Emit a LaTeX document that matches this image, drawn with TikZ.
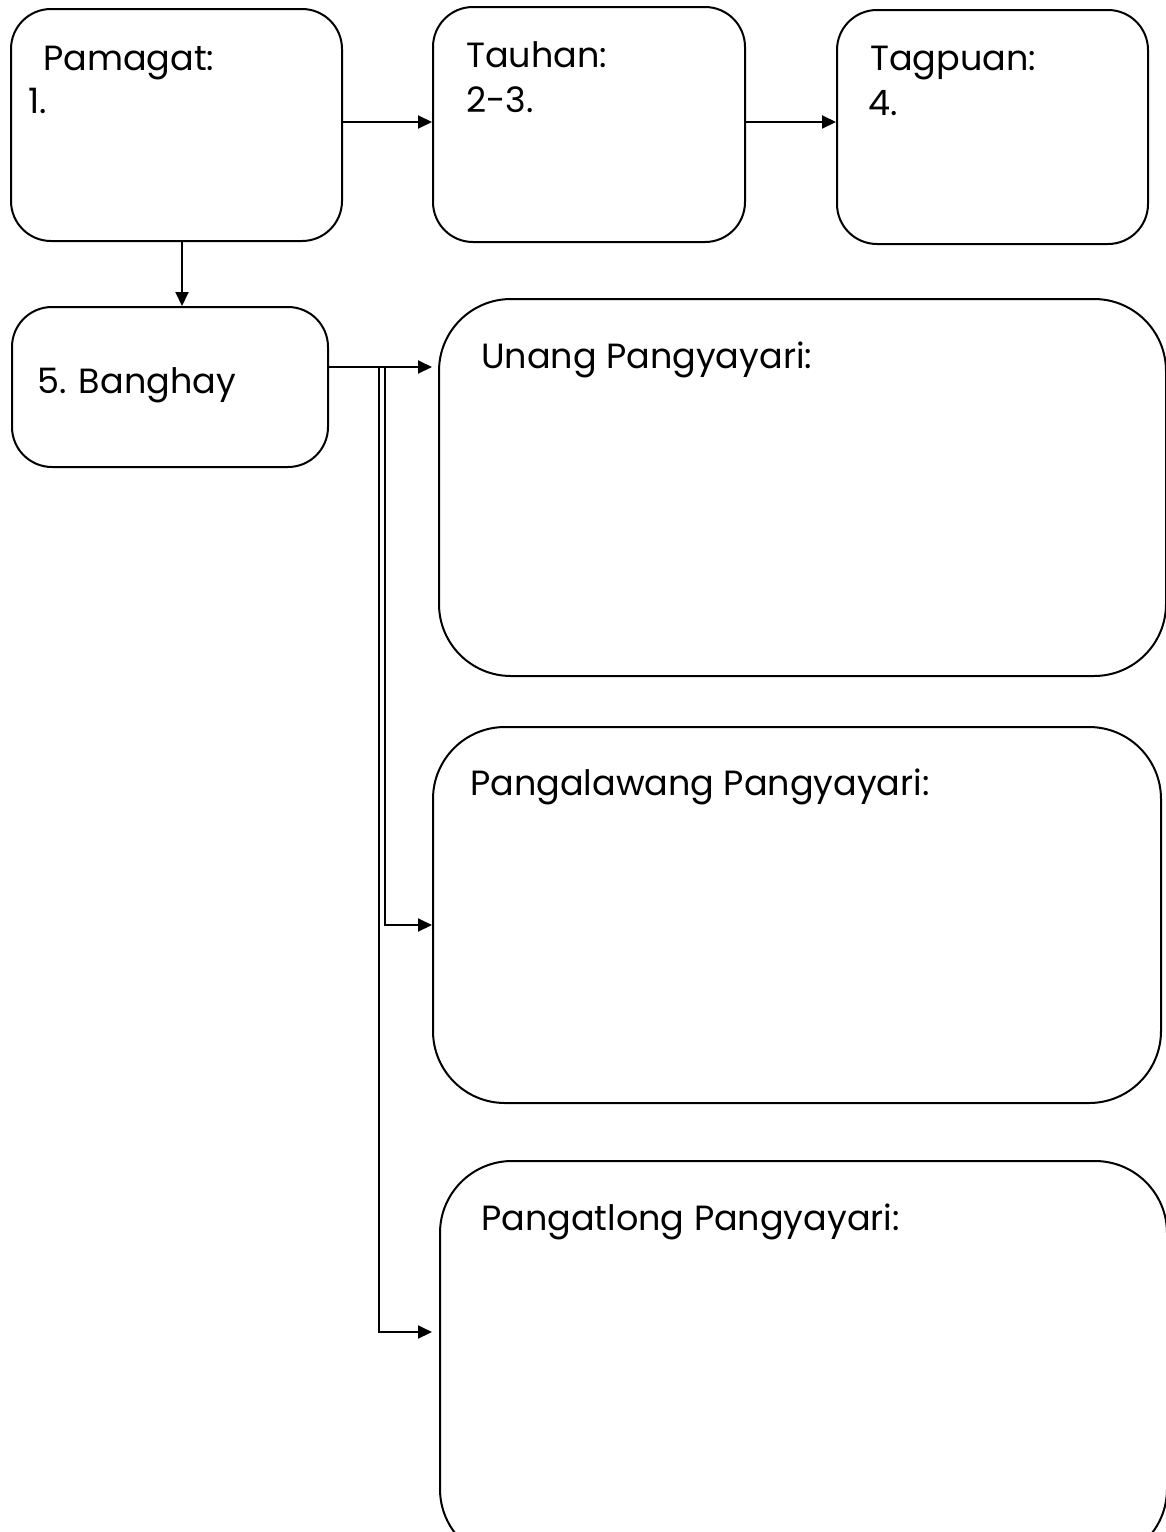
\documentclass[tikz,border=0pt]{standalone}
\usepackage{fontspec}
\setmainfont{Poppins}
\usetikzlibrary{arrows.meta}
\begin{document}
\begin{tikzpicture}[x=1pt,y=-1pt,
  box/.style={draw,line width=2pt,rounded corners=#1,inner sep=0pt,anchor=north west},
  box/.default=40pt,
  lbl/.style={anchor=base west,inner sep=0pt,font=\fontsize{35}{42}\selectfont},
  conn/.style={line width=2pt},
  arr/.style={line width=2pt,-{Triangle[length=14pt,width=13pt]}}]
\useasboundingbox (0,0) rectangle (1166,1532);
% boxes
\node[box,minimum width=331pt,minimum height=232pt] (pam) at (10,8) {};
\node[box,minimum width=312pt,minimum height=235pt] (tau) at (432,6) {};
\node[box,minimum width=311pt,minimum height=234pt] (tag) at (836,9) {};
\node[box,minimum width=316pt,minimum height=160pt] (ban) at (11,306) {};
\node[box=72pt,minimum width=727pt,minimum height=377pt] (una) at (438,298) {};
\node[box=72pt,minimum width=728pt,minimum height=376pt] (ika) at (432,726) {};
\node[box=72pt,minimum width=727pt,minimum height=400pt] (ikt) at (439,1160) {};
% texts
\node[lbl] (tpam) at (43,70) {Pamagat:};
\node[lbl] (tpam1) at (28,113) {1.};
\node[lbl] (ttau) at (466,67) {Tauhan:};
\node[lbl] (ttau1) at (466,112) {2-3.};
\node[lbl] (ttag) at (870,70) {Tagpuan:};
\node[lbl] (ttag1) at (868,115) {4.};
\node[lbl] (tban) at (37,393) {5. Banghay};
\node[lbl] (tuna) at (481,368) {Unang Pangyayari:};
\node[lbl] (tika) at (470,795) {Pangalawang Pangyayari:};
\node[lbl] (tikt) at (481,1230) {Pangatlong Pangyayari:};
% connectors
\draw[arr] (pam.east |- 0,122) -- (tau.west |- 0,122);
\draw[arr] (tau.east |- 0,122) -- (tag.west |- 0,122);
\draw[arr] (pam.south -| 182,0) -- (ban.north -| 182,0);
\coordinate (bout) at (ban.east |- 0,367);
\coordinate (uin) at (432,367);
\draw[arr] (bout) -- (uin);
\draw[arr] (385,367) -- (385,925) -- (ika.west |- 0,925);
\draw[arr] (379,367) -- (379,1332) -- (432,1332);
\end{tikzpicture}
\end{document}
